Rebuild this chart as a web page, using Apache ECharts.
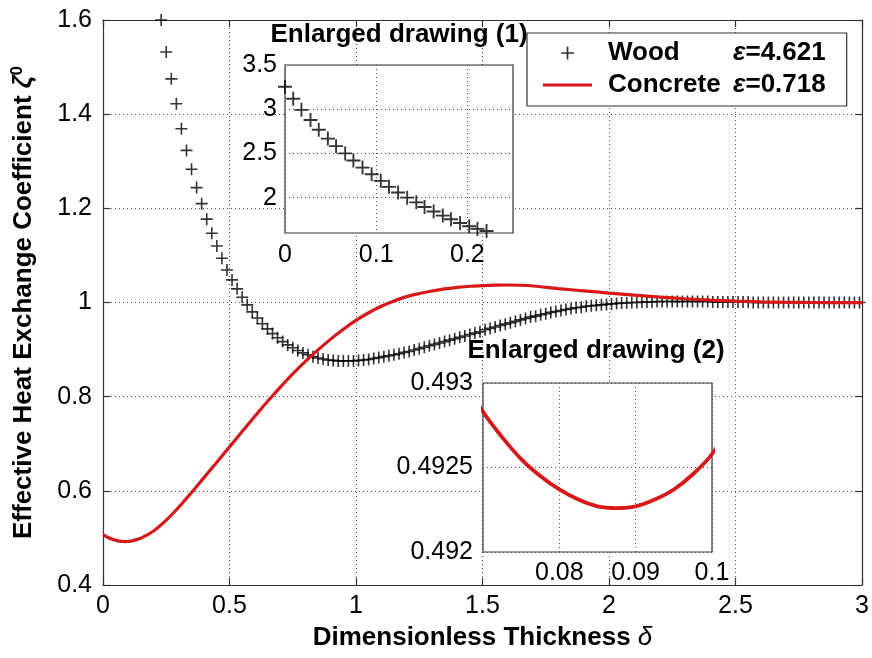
<!DOCTYPE html>
<html>
<head>
<meta charset="utf-8">
<script src="https://cdn.jsdelivr.net/npm/echarts@6/dist/echarts.min.js"></script>
<style>
html, body { margin: 0; padding: 0; background: #fff; }
#chart { width: 872px; height: 658px; }
</style>
</head>
<body>
<div id="chart"></div>
<script>
const FONT = "'Liberation Sans', Arial, Helvetica, sans-serif";

// Wood (ε = 4.621), sampled every 0.02 over the main range
const woodX = [
  0.23, 0.25, 0.27, 0.29, 0.31, 0.33, 0.35, 0.37, 0.39, 0.41,
  0.43, 0.45, 0.47, 0.49, 0.51, 0.53, 0.55, 0.57, 0.59, 0.61,
  0.63, 0.65, 0.67, 0.69, 0.71, 0.73, 0.75, 0.77, 0.79, 0.81,
  0.83, 0.85, 0.87, 0.89, 0.91, 0.93, 0.95, 0.97, 0.99, 1.01,
  1.03, 1.05, 1.07, 1.09, 1.11, 1.13, 1.15, 1.17, 1.19, 1.21,
  1.23, 1.25, 1.27, 1.29, 1.31, 1.33, 1.35, 1.37, 1.39, 1.41,
  1.43, 1.45, 1.47, 1.49, 1.51, 1.53, 1.55, 1.57, 1.59, 1.61,
  1.63, 1.65, 1.67, 1.69, 1.71, 1.73, 1.75, 1.77, 1.79, 1.81,
  1.83, 1.85, 1.87, 1.89, 1.91, 1.93, 1.95, 1.97, 1.99, 2.01,
  2.03, 2.05, 2.07, 2.09, 2.11, 2.13, 2.15, 2.17, 2.19, 2.21,
  2.23, 2.25, 2.27, 2.29, 2.31, 2.33, 2.35, 2.37, 2.39, 2.41,
  2.43, 2.45, 2.47, 2.49, 2.51, 2.53, 2.55, 2.57, 2.59, 2.61,
  2.63, 2.65, 2.67, 2.69, 2.71, 2.73, 2.75, 2.77, 2.79, 2.81,
  2.83, 2.85, 2.87, 2.89, 2.91, 2.93, 2.95, 2.97, 2.99
];
const woodY = [
  1.600, 1.532, 1.475, 1.422, 1.369, 1.323, 1.283, 1.244, 1.210, 1.177,
  1.147, 1.120, 1.094, 1.069, 1.048, 1.029, 1.011, 0.995, 0.980, 0.967,
  0.955, 0.944, 0.934, 0.925, 0.917, 0.910, 0.904, 0.898, 0.893, 0.889,
  0.885, 0.882, 0.880, 0.878, 0.877, 0.876, 0.876, 0.876, 0.876, 0.877,
  0.878, 0.879, 0.881, 0.883, 0.885, 0.887, 0.889, 0.891, 0.894, 0.896,
  0.899, 0.902, 0.905, 0.908, 0.911, 0.914, 0.917, 0.920, 0.923, 0.926,
  0.929, 0.932, 0.935, 0.938, 0.942, 0.945, 0.948, 0.951, 0.954, 0.957,
  0.960, 0.963, 0.966, 0.969, 0.971, 0.974, 0.976, 0.979, 0.981, 0.983,
  0.985, 0.987, 0.989, 0.990, 0.992, 0.993, 0.994, 0.995, 0.996, 0.997,
  0.998, 0.999, 0.999, 1.000, 1.000, 1.001, 1.001, 1.001, 1.002, 1.002,
  1.002, 1.002, 1.002, 1.002, 1.002, 1.002, 1.002, 1.002, 1.002, 1.001,
  1.001, 1.001, 1.001, 1.001, 1.001, 1.001, 1.001, 1.000, 1.000, 1.000,
  1.000, 1.000, 1.000, 1.000, 1.000, 1.000, 1.000, 1.000, 1.000, 1.000,
  1.000, 1.000, 1.000, 1.000, 1.000, 1.000, 1.000, 1.000, 1.000
];

// Wood near the surface, finer sampling (enlarged drawing 1)
const woodFineX = [
  0.000, 0.009, 0.018, 0.028, 0.037, 0.047, 0.056, 0.066, 0.075, 0.085,
  0.095, 0.105, 0.114, 0.124, 0.134, 0.144, 0.153, 0.163, 0.173, 0.182,
  0.192, 0.202, 0.211, 0.221
];
const woodFineY = [
  3.254, 3.118, 2.993, 2.878, 2.768, 2.668, 2.582, 2.500, 2.420, 2.340,
  2.265, 2.190, 2.122, 2.058, 2.000, 1.947, 1.894, 1.843, 1.797, 1.755,
  1.713, 1.676, 1.646, 1.622
];

// Concrete (ε = 0.718); dense near the shallow minimum shown in enlarged drawing 2
const concreteX = [
  0, 0.02, 0.04, 0.06, 0.065, 0.07, 0.0725, 0.075, 0.0775, 0.08,
  0.0825, 0.085, 0.0875, 0.09, 0.0925, 0.095, 0.0975, 0.1, 0.11, 0.12,
  0.15, 0.2, 0.25, 0.3, 0.35, 0.4, 0.45, 0.5, 0.55, 0.6,
  0.65, 0.7, 0.75, 0.8, 0.85, 0.9, 0.95, 1.0, 1.05, 1.1,
  1.15, 1.2, 1.25, 1.3, 1.35, 1.4, 1.45, 1.5, 1.55, 1.6,
  1.65, 1.7, 1.8, 1.9, 2.0, 2.1, 2.2, 2.3, 2.4, 2.5,
  2.6, 2.7, 2.8, 2.9, 3.0
];
const concreteY = [
  0.5069, 0.5010, 0.4966, 0.4937, 0.49322, 0.49283, 0.49268, 0.49255, 0.49245, 0.49237,
  0.49231, 0.49227, 0.49226, 0.49227, 0.49231, 0.49237, 0.49246, 0.49258, 0.49327, 0.49434,
  0.4995, 0.5146, 0.5376, 0.5656, 0.5966, 0.6286, 0.6609, 0.6934, 0.7259, 0.7582,
  0.7897, 0.8199, 0.8484, 0.8749, 0.8994, 0.9222, 0.9432, 0.9619, 0.9782, 0.9919,
  1.0030, 1.0125, 1.0190, 1.0245, 1.0290, 1.0320, 1.0345, 1.0360, 1.0370, 1.0372,
  1.0366, 1.0350, 1.0295, 1.0248, 1.0200, 1.0155, 1.0115, 1.0080, 1.0050, 1.0030,
  1.0015, 1.0005, 1.0000, 0.9999, 0.9999
];

// Tick values of the enlarged drawings
const inset1XTicks = [0, 0.1, 0.2];
const inset1YTicks = [2, 2.5, 3, 3.5];
const inset2XTicks = [0.08, 0.09, 0.1];
const inset2YTicks = [0.492, 0.4925, 0.493];

// Legend labels
const seriesNames = ['Wood', 'Concrete'];
const epsilon = { Wood: '4.621', Concrete: '0.718' };

const zip = (xs, ys) => xs.map((x, i) => [x, ys[i]]);

const CROSS = 'path://M5.2,0H6.8V5.2H12V6.8H6.8V12H5.2V6.8H0V5.2H5.2Z';
const DASH = 'path://M0,0H49V3.2H0Z';
const BOX = '#333';
const RED = '#d81818';
const dotted = { type: [1, 3], color: '#555', width: 1.1 };
const tickText = { fontSize: 25, color: '#000', fontFamily: FONT };
const boldText = { fontSize: 26, fontWeight: 'bold', color: '#000', fontFamily: FONT, lineHeight: 30 };

function mainAxis(pos, extra) {
  return Object.assign({
    gridIndex: 0, type: 'value', position: pos,
    axisLine: { show: true, onZero: false, lineStyle: { color: BOX, width: 1.2 } },
    axisTick: { show: true, inside: true, length: 7, lineStyle: { color: BOX, width: 1.2 } },
    axisLabel: { show: false },
    splitLine: { show: false }
  }, extra);
}

function insetAxis(gridIndex, min, max, ticks, margin) {
  return {
    gridIndex, type: 'value', min, max, z: 6,
    axisLine: { show: false, onZero: false },
    axisTick: { show: false, customValues: ticks },
    axisLabel: Object.assign({ customValues: ticks, margin }, tickText),
    splitLine: { show: true, lineStyle: dotted }
  };
}

const chart = echarts.init(document.getElementById('chart'), null, { renderer: 'canvas' });

chart.setOption({
  animation: false,
  backgroundColor: '#fff',
  grid: [
    { left: 103, top: 20, right: 10, bottom: 73 },
    { left: 285, top: 65, width: 228, height: 168, show: true, backgroundColor: '#fff',
      borderColor: BOX, borderWidth: 1.2, z: 5 },
    { left: 483, top: 383, width: 229, height: 169, show: true, backgroundColor: '#fff',
      borderColor: BOX, borderWidth: 1.2, z: 5 }
  ],
  xAxis: [
    mainAxis('bottom', {
      min: 0, max: 3, interval: 0.5,
      axisLabel: Object.assign({ show: true, margin: 9 }, tickText),
      splitLine: { show: true, lineStyle: dotted },
      name: '{n|Dimensionless Thickness }{d|δ}',
      nameLocation: 'middle', nameGap: 38,
      nameTextStyle: { rich: { n: boldText, d: Object.assign({}, boldText, { fontStyle: 'italic', fontWeight: 'normal' }) } }
    }),
    mainAxis('top', { min: 0, max: 3, interval: 0.5 }),
    insetAxis(1, 0, 0.25, inset1XTicks, 10),
    insetAxis(2, 0.07, 0.1, inset2XTicks, 9)
  ],
  yAxis: [
    mainAxis('left', {
      min: 0.4, max: 1.6, interval: 0.2,
      axisLabel: Object.assign({ show: true, margin: 11 }, tickText),
      splitLine: { show: true, lineStyle: dotted },
      name: '{n|Effective Heat Exchange Coefficient }{z|ζ}{s|0}',
      nameLocation: 'middle', nameGap: 64,
      nameTextStyle: { rich: {
        n: boldText,
        z: Object.assign({}, boldText, { fontStyle: 'italic' }),
        s: { fontSize: 17, fontWeight: 'bold', color: '#000', fontFamily: FONT, verticalAlign: 'top', lineHeight: 30 }
      } }
    }),
    mainAxis('right', { min: 0.4, max: 1.6, interval: 0.2 }),
    insetAxis(1, 1.6, 3.5, inset1YTicks, 8),
    insetAxis(2, 0.492, 0.493, inset2YTicks, 10)
  ],
  legend: {
    left: 527, top: 33, orient: 'vertical',
    padding: [7, 21, 8, 16], itemWidth: 49, itemHeight: 13, itemGap: 6,
    backgroundColor: '#fff', borderColor: BOX, borderWidth: 1.2, borderRadius: 0,
    selectedMode: false, z: 8,
    data: [
      { name: seriesNames[0], icon: CROSS },
      { name: seriesNames[1], icon: DASH, itemStyle: { color: RED } }
    ],
    formatter: n => `{n|${n}}{e|ε}{v|=${epsilon[n]}}`,
    textStyle: { rich: {
      n: Object.assign({}, boldText, { width: 125, padding: [0, 0, 0, 11], lineHeight: 26 }),
      e: Object.assign({}, boldText, { fontStyle: 'italic', lineHeight: 26 }),
      v: Object.assign({}, boldText, { lineHeight: 26 })
    } }
  },
  graphic: [
    { type: 'text', x: 399, y: 35, z: 20, silent: true,
      style: { text: 'Enlarged drawing (1)', fontSize: 26, fontWeight: 'bold', fontFamily: FONT,
               fill: '#000', align: 'center', verticalAlign: 'middle' } },
    { type: 'text', x: 596, y: 351, z: 20, silent: true,
      style: { text: 'Enlarged drawing (2)', fontSize: 26, fontWeight: 'bold', fontFamily: FONT,
               fill: '#000', align: 'center', verticalAlign: 'middle' } }
  ],
  series: [
    { name: seriesNames[0], type: 'scatter', xAxisIndex: 0, yAxisIndex: 0, z: 2, silent: true,
      data: zip(woodX, woodY), symbol: CROSS, symbolSize: 12, itemStyle: { color: '#000' } },
    { name: seriesNames[1], type: 'line', xAxisIndex: 0, yAxisIndex: 0, z: 3, silent: true,
      data: zip(concreteX, concreteY), smooth: 0.3, symbol: 'none',
      lineStyle: { color: RED, width: 3.2 }, itemStyle: { color: RED } },
    { name: seriesNames[0], type: 'scatter', xAxisIndex: 2, yAxisIndex: 2, z: 7, silent: true,
      data: zip(woodFineX, woodFineY), symbol: CROSS, symbolSize: 14, itemStyle: { color: '#000' } },
    { name: seriesNames[1], type: 'line', xAxisIndex: 3, yAxisIndex: 3, z: 7, silent: true,
      data: zip(concreteX, concreteY), smooth: 0.3, symbol: 'none',
      lineStyle: { color: RED, width: 3.8 }, itemStyle: { color: RED } }
  ]
});
</script>
</body>
</html>
